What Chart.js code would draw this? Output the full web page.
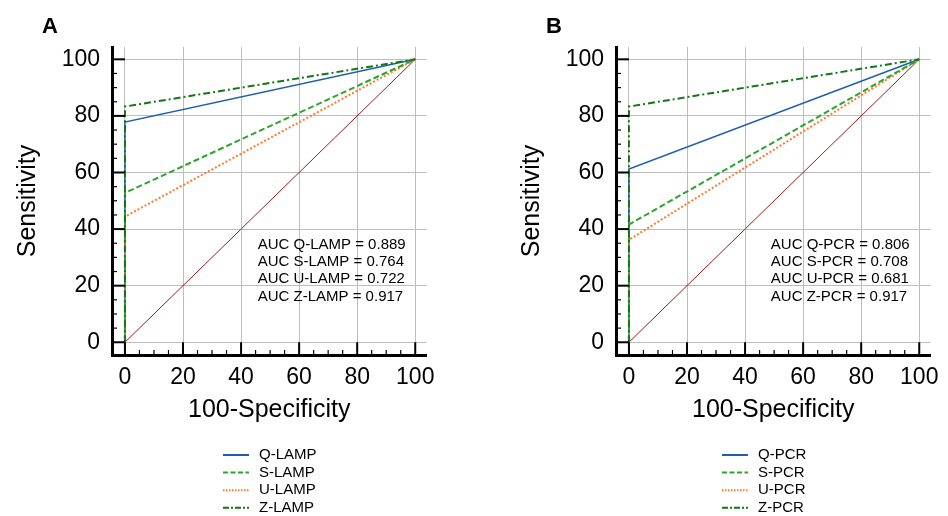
<!DOCTYPE html>
<html>
<head>
<meta charset="utf-8">
<script src="https://cdn.jsdelivr.net/npm/chart.js@4"></script>
<style>
  body { margin: 0; background: #fff; }
  #wrap { position: relative; width: 948px; height: 516px; background: #fff; }
  .panel { position: absolute; top: 0; width: 444px; height: 516px; }
</style>
</head>
<body>
<div id="wrap">
  <div class="panel" style="left:0"><canvas id="chartA" width="444" height="516"></canvas></div>
  <div class="panel" style="left:504px"><canvas id="chartB" width="444" height="516"></canvas></div>
</div>
<script>
// 100-Specificity for each ROC point (same for every test)
const ROC_X = [0, 0, 100];
const DIAG_X = [0, 100];
const DIAG_Y = [0, 100];
const TICKS = [0, 20, 40, 60, 80, 100];

// panel A: LAMP
const LAMP_NAMES = ["Q-LAMP", "S-LAMP", "U-LAMP", "Z-LAMP"];
const LAMP_Q = [0, 77.8, 100];
const LAMP_S = [0, 52.8, 100];
const LAMP_U = [0, 44.4, 100];
const LAMP_Z = [0, 83.3, 100];
const LAMP_AUC = ["0.889", "0.764", "0.722", "0.917"];

// panel B: PCR
const PCR_NAMES = ["Q-PCR", "S-PCR", "U-PCR", "Z-PCR"];
const PCR_Q = [0, 61.2, 100];
const PCR_S = [0, 41.6, 100];
const PCR_U = [0, 36.2, 100];
const PCR_Z = [0, 83.3, 100];
const PCR_AUC = ["0.806", "0.708", "0.681", "0.917"];

const FONT = "'Liberation Sans', Arial, sans-serif";

const STYLES = [
  { color: "#1f5fae", dash: [], width: 1.5, legendDash: [], order: 3 },
  { color: "#2ba52b", dash: [6, 3], width: 2, legendDash: [5, 2.5], order: 1 },
  { color: "#ff7a2a", dash: [2, 2], width: 2, legendDash: [1.5, 1.5], order: 2 },
  { color: "#167516", dash: [7, 3, 2, 3], width: 2, legendDash: [6, 2, 2, 2], order: 0 },
];

function decorPlugin(label, names, aucs, legendX) {
  return {
    id: "decor",
    afterDraw(chart) {
      const ctx = chart.ctx;
      const xs = chart.scales.x;
      const ys = chart.scales.y;
      const area = chart.chartArea;
      const x0 = xs.getPixelForValue(0);
      const y0 = ys.getPixelForValue(0);
      ctx.save();

      // inner tick marks (major to the zero line, minor every 5)
      ctx.strokeStyle = "#000";
      for (let v = 0; v <= 100; v += 5) {
        const major = v % 20 === 0;
        ctx.lineWidth = major ? 2 : 1.2;
        const py = ys.getPixelForValue(v);
        ctx.beginPath();
        ctx.moveTo(area.left, py);
        ctx.lineTo(major ? x0 : area.left + 5, py);
        ctx.stroke();
        const px = xs.getPixelForValue(v);
        ctx.beginPath();
        ctx.moveTo(px, area.bottom);
        ctx.lineTo(px, major ? y0 : area.bottom - 5);
        ctx.stroke();
      }

      // panel letter
      ctx.fillStyle = "#000";
      ctx.font = "bold 22px " + FONT;
      ctx.textBaseline = "alphabetic";
      ctx.textAlign = "left";
      ctx.fillText(label, 42, 33);

      // AUC text block
      ctx.font = "15px " + FONT;
      ctx.textBaseline = "middle";
      const lines = names.map((n, i) => "AUC " + n + " = " + aucs[i]);
      const maxW = Math.max(...lines.map((t) => ctx.measureText(t).width));
      const right = xs.getPixelForValue(96.7);
      const top = ys.getPixelForValue(34.6);
      lines.forEach((t, i) => ctx.fillText(t, right - maxW, top + i * 17.4));

      // legend below
      names.forEach((n, i) => {
        const st = STYLES[i];
        const y = 455 + i * 17.6;
        ctx.strokeStyle = st.color;
        ctx.lineWidth = 2;
        ctx.setLineDash(st.legendDash);
        ctx.beginPath();
        ctx.moveTo(legendX, y);
        ctx.lineTo(legendX + 26, y);
        ctx.stroke();
        ctx.setLineDash([]);
        ctx.fillStyle = "#000";
        ctx.fillText(n, legendX + 36, y);
      });
      ctx.restore();
    },
  };
}

function makePanel(canvasId, label, names, series, aucs, legendX) {
  const datasets = series.map((vals, i) => ({
    label: names[i],
    data: ROC_X.map((x, j) => ({ x: x, y: vals[j] })),
    borderColor: STYLES[i].color,
    borderWidth: STYLES[i].width,
    borderDash: STYLES[i].dash,
    pointRadius: 0,
    tension: 0,
    fill: false,
    order: STYLES[i].order,
  }));
  datasets.push({
    label: "diagonal",
    data: DIAG_X.map((x, j) => ({ x: x, y: DIAG_Y[j] })),
    borderColor: "#a01818",
    borderWidth: 1,
    pointRadius: 0,
    fill: false,
    order: 4,
  });

  new Chart(document.getElementById(canvasId), {
    type: "line",
    data: { datasets: datasets },
    options: {
      responsive: false,
      animation: false,
      layout: { padding: { left: 0, right: 16, top: 47, bottom: 0 } },
      plugins: {
        legend: { display: false },
        tooltip: { enabled: false },
      },
      scales: {
        x: {
          type: "linear",
          min: -4.46,
          max: 103.9,
          afterBuildTicks: (s) => {
            s.ticks = TICKS.map((v) => ({ value: v }));
          },
          afterFit: (s) => {
            s.height = 161;
          },
          ticks: {
            font: { size: 23, family: FONT },
            color: "#000",
            padding: 9,
            maxRotation: 0,
            autoSkip: false,
          },
          grid: { color: "#bdbdbd", lineWidth: 1, drawTicks: false },
          border: { display: true, color: "#000", width: 3 },
          title: {
            display: true,
            text: "100-Specificity",
            color: "#000",
            font: { size: 25, family: FONT },
            padding: { top: 0, bottom: 91 },
          },
        },
        y: {
          type: "linear",
          min: -4.5,
          max: 104.35,
          afterBuildTicks: (s) => {
            s.ticks = TICKS.map((v) => ({ value: v }));
          },
          afterFit: (s) => {
            s.width = 112;
          },
          ticks: {
            font: { size: 23, family: FONT },
            color: "#000",
            padding: 12,
            autoSkip: false,
          },
          grid: { color: "#bdbdbd", lineWidth: 1, drawTicks: false },
          border: { display: true, color: "#000", width: 3 },
          title: {
            display: true,
            text: "Sensitivity",
            color: "#000",
            font: { size: 25, family: FONT },
            padding: { top: 13, bottom: 0 },
          },
        },
      },
    },
    plugins: [decorPlugin(label, names, aucs, legendX)],
  });
}

makePanel("chartA", "A", LAMP_NAMES, [LAMP_Q, LAMP_S, LAMP_U, LAMP_Z], LAMP_AUC, 223);
makePanel("chartB", "B", PCR_NAMES, [PCR_Q, PCR_S, PCR_U, PCR_Z], PCR_AUC, 218);
</script>
</body>
</html>
